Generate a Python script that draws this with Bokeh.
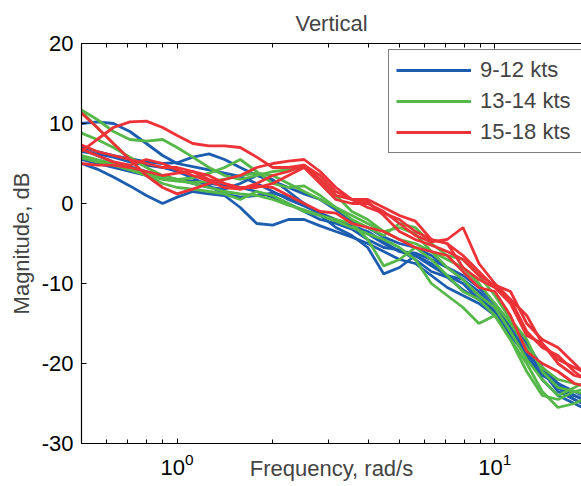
from bokeh.plotting import figure
from bokeh.models import Range1d, LogAxis, FixedTicker, Legend, LegendItem
from bokeh.embed import file_html
from bokeh.resources import INLINE

# Frequency grid, rad/s
freq = [0.5, 0.56, 0.63, 0.71, 0.8, 0.9, 1.0, 1.12, 1.26, 1.41, 1.58, 1.78, 2.0, 2.24,
        2.51, 2.82, 3.16, 3.55, 3.98, 4.47, 5.01, 5.62, 6.31, 7.08, 7.94, 8.91, 10.0,
        11.2, 12.6, 14.1, 15.8, 17.8, 20.0]

# Magnitude, dB -- 9-12 kts runs
blue_1 = [10.0, 10.2, 10.0, 9.0, 7.5, 6.0, 5.0, 4.6, 4.2, 3.8, 3.4, 2.5, 1.5, 0.5, -0.3, -1.2, -2.0,
          -2.8, -3.5, -4.8, -6.0, -6.5, -7.8, -9.0, -9.5, -11.5, -13.5, -15.5, -18.5, -21.0, -23.0, -24.5, -25.5]
blue_2 = [7.0, 6.5, 6.0, 5.6, 5.2, 5.0, 5.1, 5.8, 6.2, 5.5, 4.5, 3.5, 2.8, 2.0, 1.2, 0.5, -0.8,
          -2.2, -3.0, -4.2, -5.0, -5.5, -6.5, -8.0, -9.0, -10.5, -12.5, -15.0, -17.5, -20.5, -22.5, -23.5, -24.5]
blue_3 = [5.0, 4.3, 3.3, 2.2, 1.0, 0.0, 0.8, 1.5, 1.2, 1.0, -0.5, -2.5, -2.7, -2.0, -2.0, -2.8, -3.5,
          -4.2, -5.0, -6.0, -7.0, -7.5, -9.0, -10.5, -11.5, -12.5, -14.0, -16.5, -19.0, -22.0, -24.0, -25.0, -26.0]
blue_4 = [6.5, 6.2, 5.8, 5.2, 4.8, 4.5, 4.0, 3.2, 2.2, 1.2, 0.8, 1.0, 1.3, 0.8, 0.0, -1.2, -2.3,
          -3.0, -3.8, -5.0, -6.0, -6.2, -7.0, -8.0, -9.5, -11.0, -13.0, -16.0, -19.0, -21.5, -22.5, -24.0, -25.0]
blue_5 = [6.8, 6.0, 5.2, 4.6, 4.0, 3.5, 3.0, 2.5, 2.0, 1.8, 2.5, 3.5, 3.0, 1.5, 0.0, -1.5, -3.0,
          -4.0, -5.5, -8.8, -8.0, -6.5, -7.5, -9.0, -10.0, -12.0, -13.8, -16.0, -18.5, -21.0, -23.5, -24.5, -25.5]
blue_6 = [5.5, 5.0, 4.5, 4.0, 3.5, 3.2, 3.0, 2.8, 2.5, 2.3, 2.0, 1.5, 0.8, 0.0, -1.0, -2.0, -2.5,
          -3.2, -4.5, -5.5, -5.8, -7.0, -8.5, -9.2, -10.8, -12.0, -13.0, -15.5, -17.5, -20.5, -23.0, -24.0, -24.8]

# Magnitude, dB -- 13-14 kts runs
green_1 = [11.7, 10.5, 9.0, 8.0, 7.8, 8.0, 7.0, 5.8, 4.5, 3.5, 3.0, 3.5, 4.0, 4.2, 4.5, 3.0, 1.0,
           -1.0, -2.0, -3.5, -4.5, -5.0, -6.0, -7.0, -8.0, -10.0, -12.5, -15.0, -18.0, -20.5, -22.0, -22.5, -23.0]
green_2 = [8.8, 8.0, 7.0, 5.8, 4.5, 3.5, 3.0, 3.2, 3.8, 4.5, 5.5, 4.0, 2.5, 2.0, 2.2, 1.0, -0.5,
           -2.0, -3.0, -4.0, -2.5, -3.0, -5.0, -6.5, -7.0, -9.0, -11.5, -14.5, -17.0, -21.0, -23.0, -23.5, -24.0]
green_3 = [11.5, 9.5, 7.5, 5.5, 3.5, 2.5, 2.0, 1.8, 1.5, 1.2, 0.5, 1.5, 1.0, 0.0, -1.0, -1.5, -2.0,
           -2.5, -4.5, -7.8, -7.0, -5.5, -7.0, -9.0, -11.0, -12.0, -14.0, -17.0, -20.0, -23.5, -25.5, -25.0, -24.0]
green_4 = [5.7, 5.2, 4.8, 4.2, 3.5, 3.0, 2.8, 2.6, 2.8, 3.0, 3.5, 3.8, 3.5, 2.5, 1.5, 0.5, -0.5,
           -1.5, -2.5, -3.5, -3.0, -3.8, -6.0, -8.0, -9.5, -11.5, -13.0, -16.0, -19.5, -22.0, -24.0, -23.0, -22.0]
green_5 = [6.0, 5.5, 5.0, 4.3, 3.8, 3.2, 3.0, 2.5, 2.0, 1.5, 1.2, 1.0, 0.5, -0.2, -0.8, -1.5, -2.2,
           -3.0, -3.8, -4.5, -5.5, -7.0, -10.0, -11.5, -13.0, -15.0, -14.0, -17.0, -21.0, -24.0, -24.5, -23.5, -23.0]

# Magnitude, dB -- 15-18 kts runs
red_1 = [11.3, 9.5, 7.5, 5.5, 3.5, 2.0, 1.2, 1.8, 2.5, 3.0, 3.5, 4.5, 5.0, 5.3, 5.5, 4.0, 2.0,
         0.5, -0.5, -1.2, -2.0, -3.5, -4.5, -5.0, -6.5, -8.5, -10.5, -12.0, -16.0, -18.0, -19.0, -21.0, -22.5]
red_2 = [6.5, 8.0, 9.5, 10.2, 10.3, 9.5, 8.5, 7.5, 7.2, 7.2, 7.0, 5.8, 4.5, 4.5, 4.8, 3.5, 1.5,
         0.5, 0.5, -0.5, -1.5, -2.2, -4.5, -5.0, -8.0, -9.5, -10.5, -12.5, -16.5, -17.5, -19.5, -20.5, -21.5]
red_3 = [7.3, 6.5, 6.0, 5.5, 5.0, 4.5, 4.5, 4.0, 3.0, 2.5, 2.0, 2.0, 2.5, 3.5, 4.5, 2.5, 0.5,
         0.0, 0.0, -1.0, -2.5, -4.0, -4.8, -4.5, -3.0, -7.5, -10.0, -12.0, -14.0, -17.5, -20.0, -21.5, -22.0]
red_4 = [5.0, 4.8, 4.8, 4.5, 4.0, 3.5, 3.8, 4.0, 3.5, 2.5, 1.8, 2.2, 2.0, 1.0, 0.0, -1.0, -1.2,
         -2.5, -3.0, -3.5, -4.5, -5.5, -6.0, -6.5, -8.5, -10.5, -11.0, -14.0, -18.5, -20.0, -21.0, -22.5, -23.0]
red_5 = [6.8, 6.0, 5.2, 4.8, 5.5, 5.0, 4.2, 3.5, 2.8, 2.0, 1.8, 2.5, 3.5, 4.0, 4.8, 3.0, 1.0,
         0.5, 0.2, -1.5, -3.5, -4.5, -5.2, -6.0, -7.0, -9.0, -10.2, -11.0, -15.0, -17.0, -18.0, -20.0, -22.0]

groups = [
    ("9-12 kts", "#1d5db0", [blue_1, blue_2, blue_3, blue_4, blue_5, blue_6]),
    ("13-14 kts", "#55b848", [green_1, green_2, green_3, green_4, green_5]),
    ("15-18 kts", "#ec3236", [red_1, red_2, red_3, red_4, red_5]),
]

y_ticks = [-30, -20, -10, 0, 10, 20]
y_tick_labels = ["-30", "-20", "-10", "0", "10", "20"]
x_major = [1, 10]
x_minor = [0.6, 0.7, 0.8, 0.9, 2, 3, 4, 5, 6, 7, 8, 9]

FONT = "Liberation Sans"

p = figure(width=581, height=486, x_axis_type="log",
           x_range=Range1d(0.5, 18.74), y_range=Range1d(-30, 20),
           output_backend="svg", toolbar_location=None,
           min_border_left=81, min_border_right=0, min_border_top=43, min_border_bottom=43,
           title="Vertical")
p.outline_line_color = None
p.grid.visible = False
p.background_fill_color = "white"

p.title.text_font = FONT
p.title.text_font_size = "22px"
p.title.text_font_style = "normal"
p.title.align = "center"
p.title.standoff = 15

xa = p.xaxis[0]
xa.ticker = FixedTicker(ticks=x_major, minor_ticks=x_minor)
xa.major_label_standoff = 9
xa.major_label_text_font = FONT
xa.major_label_text_font_size = "22px"
xa.major_label_text_color = "black"
xa.major_tick_in = 5
xa.major_tick_out = 0
xa.minor_tick_in = 4
xa.minor_tick_out = 0
xa.axis_line_color = "black"
xa.axis_line_width = 1.2
xa.axis_label = "Frequency, rad/s"
xa.axis_label_text_font = FONT
xa.axis_label_text_font_size = "22px"
xa.axis_label_text_font_style = "normal"
xa.axis_label_standoff = -22

top = LogAxis(ticker=FixedTicker(ticks=x_major, minor_ticks=x_minor),
              major_label_overrides={1: "", 10: ""}, major_label_standoff=0,
              major_tick_in=5, major_tick_out=0, minor_tick_in=4, minor_tick_out=0,
              axis_line_width=1.2)
p.add_layout(top, "above")

ya = p.yaxis[0]
ya.ticker = FixedTicker(ticks=y_ticks)
ya.major_label_overrides = dict(zip(y_ticks, y_tick_labels))
ya.major_tick_in = 5
ya.major_tick_out = 0
ya.minor_tick_in = 0
ya.minor_tick_out = 0
ya.major_label_standoff = 8
ya.major_label_text_font = FONT
ya.major_label_text_font_size = "22px"
ya.major_label_text_color = "black"
ya.axis_label = "Magnitude, dB"
ya.axis_label_text_font = FONT
ya.axis_label_text_font_size = "22px"
ya.axis_label_text_font_style = "normal"
ya.axis_label_standoff = 5
ya.axis_line_width = 1.2

items = []
for label, color, curves in groups:
    rs = [p.line(freq, c, line_color=color, line_width=2.8) for c in curves]
    items.append(LegendItem(label=label, renderers=[rs[0]]))

legend = Legend(items=items, location=(307, 290),
                label_text_font=FONT, label_text_font_size="22px",
                glyph_width=75, glyph_height=24, label_height=24, label_standoff=9,
                label_width=94, spacing=5, padding=7, margin=0,
                border_line_color="black", border_line_width=1.2,
                background_fill_color="white", background_fill_alpha=1)
p.add_layout(legend)

open("out.html", "w").write(file_html(p, INLINE))
